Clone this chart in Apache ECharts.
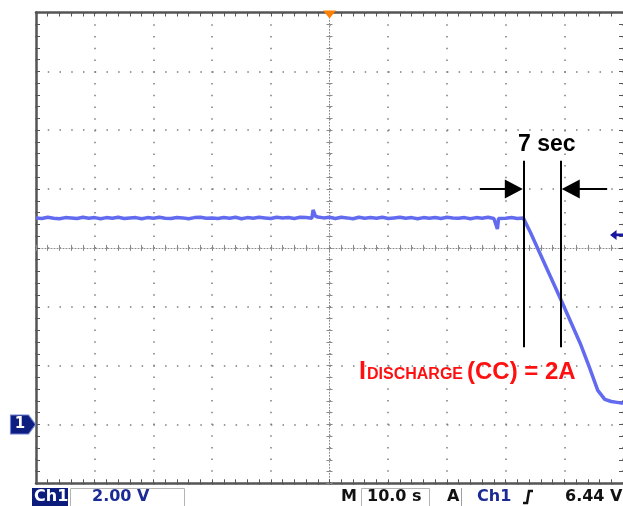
<!DOCTYPE html>
<html>
<head>
<meta charset="utf-8">
<script src="https://cdn.jsdelivr.net/npm/echarts@6/dist/echarts.min.js"></script>
<style>
  html, body { margin: 0; background: #fff; }
  #main { width: 623px; height: 506px; }
</style>
</head>
<body>
<div id="main"></div>
<script>
// scope capture: Ch1 2.00 V/div, 10.0 s/div
const traceTime = [
  0, 1, 2, 3, 4, 5, 6, 7, 8, 9,
  10, 11, 12, 13, 14, 15, 16, 17, 18, 19,
  20, 21, 22, 23, 24, 25, 26, 27, 28, 29,
  30, 31, 32, 33, 34, 35, 36, 37, 38, 39,
  40, 41, 42, 43, 44, 45, 46, 47, 47.2, 47.6,
  48, 49, 50, 51, 52, 53, 54, 55, 56, 57,
  58, 59, 60, 61, 62, 63, 64, 65, 66, 67,
  68, 69, 70, 71, 72, 73, 74, 75, 76, 77,
  78, 78.6, 78.8, 79, 80, 81, 82, 83, 83.3,
  84.2, 86.9, 89.6, 92.7, 94.2, 95.7, 96.9, 98, 99, 100
];
const traceVolts = [
  7.02, 7.00, 7.04, 7.01, 6.99, 7.03, 7.02, 7.00, 7.04, 7.01,
  7.03, 6.99, 7.03, 7.01, 7.04, 7.00, 7.02, 7.03, 6.99, 7.03,
  7.01, 7.04, 7.01, 7.00, 7.03, 7.02, 6.99, 7.03, 7.04, 7.01,
  7.02, 7.00, 7.03, 7.01, 7.04, 6.99, 7.03, 7.01, 7.04, 7.02,
  7.00, 7.04, 7.02, 7.03, 7.00, 7.04, 7.03, 7.01, 7.29, 7.08,
  7.05, 7.02, 7.04, 7.00, 7.04, 7.02, 6.99, 7.04, 7.01, 7.03,
  7.01, 7.04, 7.00, 7.02, 7.04, 7.01, 7.03, 6.99, 7.03, 7.01,
  7.03, 7.00, 7.04, 7.02, 7.01, 7.03, 6.99, 7.03, 7.01, 7.04,
  7.00, 6.64, 7.00, 7.03, 7.01, 7.03, 7.00, 7.02, 6.99,
  6.54, 5.35, 4.16, 2.76, 1.98, 1.16, 0.85, 0.78, 0.75, 0.72
];

// cursors marking the 7 sec window
const cursorTimes = [83.1, 89.4];
const cursorSpan = [8.96, 2.62];
const arrowLevel = 8.0;
const leftArrow = [75.6, 81.4];
const rightArrow = [97.3, 91.1];

const triggerTime = 50;
const triggerLevel = 6.44;
const groundLevel = 0;

const cursorLabel = '7 sec';
const currentLabel = ['I', 'DISCHARGE', '(CC) = 2A'];
const statusLabels = {
  channel: 'Ch1', scale: '2.00 V', mainTag: 'M', timebase: '10.0 s',
  acq: 'A', trigSource: 'Ch1', trigLevel: '6.44 V'
};

const BORDER = '#555';
const DOTS = '#7c7c7c';
const CENTER = '#8a8a8a';
const DOT_DASH = [1.5, 10.24]; // one dot per 1/5 division

function frameX(position, split) {
  return {
    type: 'value', min: 0, max: 100, interval: 10, position: position,
    axisLine: { onZero: false, lineStyle: { color: BORDER, width: 2.5 } },
    axisTick: { inside: true, length: 4, lineStyle: { color: BORDER, width: 1 } },
    minorTick: { show: true, splitNumber: 5, length: 4, lineStyle: { color: BORDER, width: 1 } },
    axisLabel: { show: false },
    splitLine: { show: split, lineStyle: { color: DOTS, width: 1.5, type: DOT_DASH } }
  };
}
function frameY(position, split, lineShow) {
  return {
    type: 'value', min: -2, max: 14, interval: 2, position: position,
    axisLine: { show: lineShow, onZero: false, lineStyle: { color: BORDER, width: 2.5 } },
    axisTick: { inside: true, length: 4, lineStyle: { color: BORDER, width: 1 } },
    minorTick: { show: true, splitNumber: 5, length: 4, lineStyle: { color: BORDER, width: 1 } },
    axisLabel: { show: false },
    splitLine: { show: split, lineStyle: { color: DOTS, width: 1.5, type: DOT_DASH } }
  };
}
// center graticule lines, ticked on both sides
function centerX(inside) {
  return {
    type: 'value', min: -50, max: 50, interval: 10, position: 'bottom',
    axisLine: { show: inside, onZero: true, onZeroAxisIndex: 2, lineStyle: { color: CENTER, width: 1, type: [1, 2] } },
    axisTick: { inside: inside, length: 3, lineStyle: { color: CENTER, width: 1 } },
    minorTick: { show: true, splitNumber: 5, length: 3, lineStyle: { color: CENTER, width: 1 } },
    axisLabel: { show: false }, splitLine: { show: false }
  };
}
function centerY(inside) {
  return {
    type: 'value', min: -8, max: 8, interval: 2, position: 'left',
    axisLine: { show: inside, onZero: true, onZeroAxisIndex: 2, lineStyle: { color: CENTER, width: 1, type: [1, 2] } },
    axisTick: { inside: inside, length: 3, lineStyle: { color: CENTER, width: 1 } },
    minorTick: { show: true, splitNumber: 5, length: 3, lineStyle: { color: CENTER, width: 1 } },
    axisLabel: { show: false }, splitLine: { show: false }
  };
}

const statusFont = 'bold 16px "DejaVu Sans"';
function statusText(x, text, color) {
  return { type: 'text', x: x, y: 497, z: 10,
    style: { text: text, font: statusFont, fill: color, align: 'left', verticalAlign: 'middle' } };
}

const chart = echarts.init(document.getElementById('main'), null, { renderer: 'canvas' });

chart.setOption({
  animation: false,
  backgroundColor: '#fff',
  grid: { left: 36, right: 0, top: 12.5, bottom: 22.7, outerBoundsMode: 'none' },
  xAxis: [frameX('bottom', true), frameX('top', false), centerX(true), centerX(false)],
  yAxis: [frameY('left', true, true), frameY('right', false, false), centerY(true), centerY(false)],
  series: [{
    type: 'line',
    xAxisIndex: 0, yAxisIndex: 0,
    data: traceTime.map((t, i) => [t, traceVolts[i]]),
    showSymbol: false,
    clip: false,
    z: 3,
    lineStyle: { color: '#626bf0', width: 3.5 },
    itemStyle: { color: '#626bf0' },
    markLine: {
      silent: true, animation: false, symbol: 'none',
      label: { show: false },
      lineStyle: { color: '#000', width: 2, type: 'solid' },
      data: [
        [{ coord: [cursorTimes[0], cursorSpan[0]] }, { coord: [cursorTimes[0], cursorSpan[1]] }],
        [{ coord: [cursorTimes[1], cursorSpan[0]] }, { coord: [cursorTimes[1], cursorSpan[1]] }],
        [{ coord: [leftArrow[0], arrowLevel], symbol: 'none' },
         { coord: [leftArrow[1], arrowLevel], symbol: 'triangle', symbolSize: [19, 18] }],
        [{ coord: [rightArrow[0], arrowLevel], symbol: 'none' },
         { coord: [rightArrow[1], arrowLevel], symbol: 'triangle', symbolSize: [19, 18] }]
      ]
    },
    markPoint: {
      silent: true, animation: false,
      label: { show: false },
      data: [
        { coord: [triggerTime, 14], symbol: 'triangle', symbolRotate: 180,
          symbolSize: [13, 8], symbolOffset: [0, 2], itemStyle: { color: '#ff8000' } },
        { coord: [98.9, triggerLevel],
          symbol: 'path://M0,5 L7,0 L7,3.6 L14,3.6 L14,6.4 L7,6.4 L7,10 Z',
          symbolSize: [13, 10], itemStyle: { color: '#16169e' } },
        { coord: [0, groundLevel],
          symbol: 'path://M0,0 L18,0 L25,9.5 L18,19 L0,19 Z',
          symbolSize: [25, 19], symbolOffset: [-13, 0],
          itemStyle: { color: '#0d1d80', borderColor: '#7080d0', borderWidth: 1 },
          label: { show: true, formatter: '1', color: '#fff', fontWeight: 'bold',
            fontSize: 15, fontFamily: 'DejaVu Sans', offset: [-3, 0] } }
      ]
    }
  }],
  graphic: [
    { type: 'text', x: 518, y: 145, z: 10,
      style: { text: cursorLabel, font: 'bold 23px "Liberation Sans"', fill: '#000', verticalAlign: 'middle' } },
    { type: 'text', x: 359, y: 372, z: 10,
      style: { text: currentLabel[0], font: 'bold 25px "Liberation Sans"', fill: '#ff1010', verticalAlign: 'middle' } },
    { type: 'text', x: 367, y: 375, z: 10,
      style: { text: currentLabel[1], font: 'bold 16px "Liberation Sans"', fill: '#ff1010', verticalAlign: 'middle' } },
    { type: 'text', x: 467, y: 372, z: 10,
      style: { text: currentLabel[2], font: 'bold 24px "Liberation Sans"', fill: '#ff1010', verticalAlign: 'middle' } },

    // status bar
    { type: 'rect', shape: { x: 32, y: 488, width: 36, height: 18 }, style: { fill: '#0c1c7c' } },
    { type: 'rect', shape: { x: 70.5, y: 488.5, width: 114, height: 18 }, style: { fill: '#fff', stroke: '#b4b4b4', lineWidth: 1 } },
    { type: 'rect', shape: { x: 361.5, y: 488.5, width: 68, height: 18 }, style: { fill: '#fff', stroke: '#b4b4b4', lineWidth: 1 } },
    { type: 'line', shape: { x1: 461.5, y1: 488, x2: 461.5, y2: 506 }, style: { stroke: '#a0a0a0', lineWidth: 1 } },
    statusText(34, statusLabels.channel, '#fff'),
    statusText(92, statusLabels.scale, '#1b2b94'),
    statusText(341, statusLabels.mainTag, '#111'),
    statusText(367, statusLabels.timebase, '#111'),
    statusText(447, statusLabels.acq, '#111'),
    statusText(477, statusLabels.trigSource, '#1b2b94'),
    { type: 'polyline', shape: { points: [[523, 503], [527, 503], [529, 491], [533, 491]] },
      style: { stroke: '#111', lineWidth: 2.5, fill: null } },
    statusText(565, statusLabels.trigLevel, '#111')
  ]
});
</script>
</body>
</html>
